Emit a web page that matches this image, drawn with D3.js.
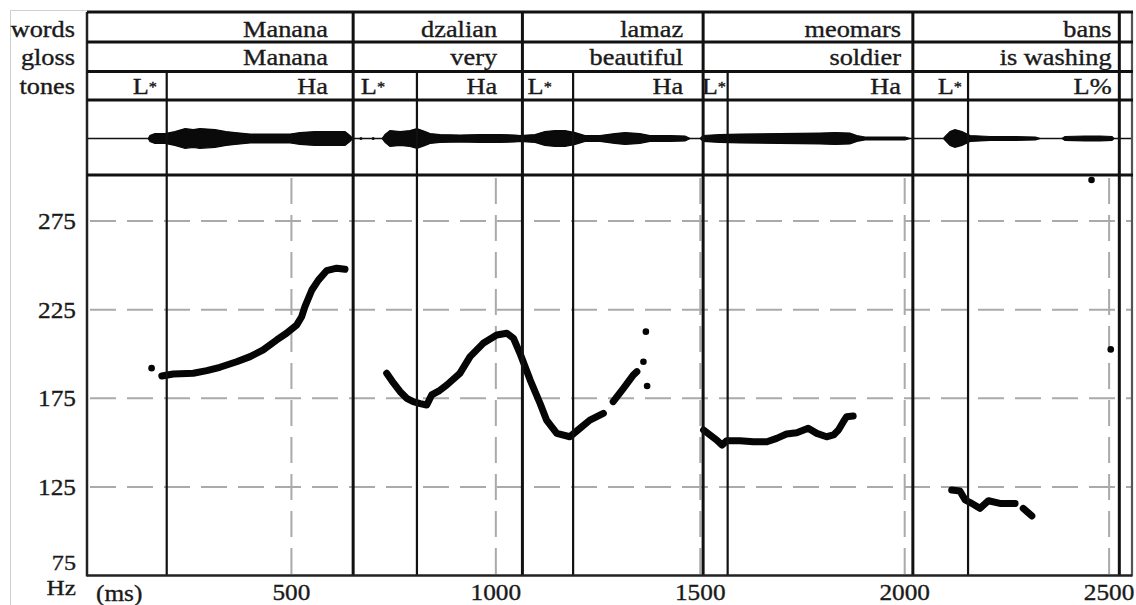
<!DOCTYPE html>
<html><head><meta charset="utf-8">
<script src="https://cdn.jsdelivr.net/npm/d3@7"></script>
<style>
body{margin:0;background:#fff;}
svg{display:block;}
text{font-family:"Liberation Serif","Times New Roman",serif;fill:#1a1a1a;stroke:#1a1a1a;stroke-width:0.35px;}
</style>
</head><body>
<svg id="c" width="1136" height="605"></svg>
<script>
// ---------------- DATA ----------------
const rowLabels = ["words", "gloss", "tones"];
const words = ["Manana", "dzalian", "lamaz", "meomars", "bans"];
const glosses = ["Manana", "very", "beautiful", "soldier", "is washing"];
const wordBounds = [0, 651, 1065, 1507, 2020, 2525];          // ms
const tones = ["L*", "Ha", "L*", "Ha", "L*", "Ha", "L*", "Ha", "L*", "L%"];
const toneBounds = [195, 807, 1189, 1567, 2155];              // ms (L* | H boundaries)
const yTicks = [75, 125, 175, 225, 275];
const xTicks = [500, 1000, 1500, 2000, 2500];

// F0 tracks [ms, Hz]
const pitchManana = [[183,187.6],[211,188.7],[260,189.1],[293,190.6],[325,192.5],[366,195.6],[399,198.5],[431,202.3],[464,207.9],[488,211.7],[513,216.4],[525,221],[533,226.7],[550,236.1],[566,241.7],[586,247],[611,248.4],[631,247.8]];
const pitchDzalian = [[733,189.1],[750,183.5],[766,178.7],[782,175],[798,173.1],[815,172],[831,171.2],[843,176.9],[860,179],[880,182.5],[912,189.1],[937,198.5],[969,206],[1002,210.7],[1027,211.7],[1043,208.9],[1059,200.4],[1084,185.3],[1108,172.2],[1124,162.7],[1149,155.2],[1181,153.3],[1206,158.1],[1230,162.7],[1263,166.5]];
const pitchLamaz = [[1287,173.1],[1312,180.6],[1336,188.1],[1345,190]];
const pitchMeomars = [[1508,157.1],[1524,154.3],[1540,151.5],[1553,148.6],[1565,151.1],[1597,151.1],[1630,150.5],[1663,150.5],[1687,152.4],[1711,154.8],[1736,155.6],[1764,158.1],[1785,155.2],[1809,153.3],[1826,154.3],[1838,157.1],[1850,161.8],[1858,164.6],[1874,165]];
const pitchBans1 = [[2115,123.2],[2135,122.7],[2148,117.6],[2164,115.7],[2184,112.9],[2205,117.2],[2233,115.7],[2270,115.7]];
const pitchBans2 = [[2290,112.9],[2311,108.6]];
const pitchDots = [[158,192],[1361,195.6],[1367,212.6],[1370,181.9],[2457,298.2],[2504,202.6]];

// waveform amplitude envelope [ms, half-amplitude]
const waveManana = [[150,0],[154,3],[166,5],[191,5],[215,7],[240,10],[260,9],[276,10],[313,9],[340,7],[362,6],[399,4.5],[448,4.5],[497,4.5],[521,6],[558,7],[594,7],[631,7],[643,3],[650,0]];
const waveDzalian = [[722,0],[729,4],[741,8],[766,7],[790,8],[807,10],[827,7],[839,5],[863,4],[912,3.5],[961,4],[1010,4],[1047,3.5],[1059,3],[1096,4],[1120,7],[1145,8],[1169,8],[1194,6],[1218,3],[1255,3],[1291,5],[1316,6],[1352,5],[1377,3],[1426,3],[1463,2.5],[1475,0]];
const waveMeomars = [[1500,0],[1507,3],[1548,4],[1597,4.5],[1695,5],[1793,5.5],[1830,6],[1866,5.5],[1883,3],[1903,1.5],[2001,1.5],[2013,0]];
const waveBans = [[2095,0],[2099,2],[2111,7],[2123,9],[2140,7],[2160,3],[2209,2],[2258,2],[2320,1.5],[2331,0]];
const waveBans2 = [[2385,0],[2392,2],[2441,2.5],[2478,2.5],[2507,2],[2512,0]];
const waveSpecks = [[670,1.5],[700,1.5]];

// ---------------- LAYOUT ----------------
const wordLabelEnd = [589, 1003, 1458, 1991, 2506];
const toneLabelEnd = [171, 589, 729, 1003, 1137, 1458, 1563, 1991, 2140, 2506];
const rowLines = [12, 42, 71.5, 100];
const waveBottom = 175;
const axisY = 575.5;
const left = 87, right = 1132;

const svg = d3.select("#c");
const x = d3.scaleLinear().domain([0, 2556]).range([left, right]);
const y = d3.scaleLinear().domain([75, 301]).range([axisY, waveBottom]);
const yw = d3.scaleLinear().domain([-37, 39]).range([waveBottom, 100]);

function label(g, txt, xx, yy, size, sx, anchor) {
  const t = g.append("g").attr("transform", `translate(${xx},${yy}) scale(${sx},1)`)
   .append("text").attr("text-anchor", anchor || "end").attr("font-size", size);
  const s = String(txt);
  if (s.endsWith("*")) {
    t.append("tspan").text(s.slice(0, -1));
    t.append("tspan").attr("font-size", size * 0.62).attr("dy", -2).text("*");
  } else {
    t.text(s);
  }
}

// faint outer image border
svg.append("path").attr("d", "M10.5,605 V10.5 H87").attr("fill", "none").attr("stroke", "#cfcfcf").attr("stroke-width", 1);

// gridlines
const grid = svg.append("g").attr("stroke", "#aaa").attr("stroke-width", 2).attr("stroke-dasharray", "26,11");
grid.selectAll(".hg").data(yTicks.filter(d => d > 75)).join("line")
  .attr("x1", left + 3).attr("x2", right).attr("y1", d => y(d)).attr("y2", d => y(d));
grid.selectAll(".vg").data(xTicks).join("line")
  .attr("x1", d => x(d)).attr("x2", d => x(d)).attr("y1", waveBottom + 3).attr("y2", axisY);

// waveform
svg.append("line").attr("x1", left).attr("x2", right).attr("y1", yw(0)).attr("y2", yw(0)).attr("stroke", "#111").attr("stroke-width", 1.5);
const area = d3.area().x(d => x(d[0])).y0(d => yw(-d[1])).y1(d => yw(d[1])).curve(d3.curveLinear);
svg.append("g").selectAll("path").data([waveManana, waveDzalian, waveMeomars, waveBans, waveBans2]).join("path")
  .attr("d", area).attr("fill", "#0a0a0a").attr("stroke", "#0a0a0a").attr("stroke-width", 1.2);
svg.append("g").selectAll("circle").data(waveSpecks).join("circle")
  .attr("cx", d => x(d[0])).attr("cy", yw(0)).attr("r", d => d[1]).attr("fill", "#111");

// pitch tracks
const line = d3.line().x(d => x(d[0])).y(d => y(d[1])).curve(d3.curveLinear);
svg.append("g").selectAll("path").data([pitchManana, pitchDzalian, pitchLamaz, pitchMeomars, pitchBans1, pitchBans2]).join("path")
  .attr("d", line).attr("fill", "none").attr("stroke", "#050505").attr("stroke-width", 7)
  .attr("stroke-linecap", "round").attr("stroke-linejoin", "round");
svg.append("g").selectAll("circle").data(pitchDots).join("circle")
  .attr("cx", d => x(d[0])).attr("cy", d => y(d[1])).attr("r", 3.3).attr("fill", "#050505");

// vertical boundaries
svg.append("g").selectAll("line").data(wordBounds.slice(1)).join("line")
  .attr("x1", d => x(d)).attr("x2", d => x(d)).attr("y1", rowLines[0]).attr("y2", axisY)
  .attr("stroke", "#111").attr("stroke-width", 3);
svg.append("g").selectAll("line").data(toneBounds).join("line")
  .attr("x1", d => x(d)).attr("x2", d => x(d)).attr("y1", rowLines[2]).attr("y2", axisY)
  .attr("stroke", "#111").attr("stroke-width", 2.2);
// frame
svg.append("line").attr("x1", left).attr("x2", left).attr("y1", rowLines[0]).attr("y2", axisY + 1).attr("stroke", "#222").attr("stroke-width", 2.5);
svg.append("line").attr("x1", right).attr("x2", right).attr("y1", rowLines[0]).attr("y2", axisY + 1).attr("stroke", "#555").attr("stroke-width", 2.2);
svg.append("g").selectAll("line").data(rowLines.concat([waveBottom])).join("line")
  .attr("x1", left).attr("x2", right + 1).attr("y1", d => d).attr("y2", d => d)
  .attr("stroke", "#111").attr("stroke-width", 3.2);
svg.append("line").attr("x1", left).attr("x2", right).attr("y1", axisY).attr("y2", axisY).attr("stroke", "#222").attr("stroke-width", 2.5);

// header texts
const hdr = svg.append("g");
const baselines = [37, 65, 94];
rowLabels.forEach((t, i) => label(hdr, t, 75, baselines[i], 22.5, 1.17));
words.forEach((t, i) => label(hdr, t, x(wordLabelEnd[i]), baselines[0], 22.5, 1.17));
glosses.forEach((t, i) => label(hdr, t, x(wordLabelEnd[i]), baselines[1], 22.5, 1.17));
tones.forEach((t, i) => label(hdr, t, x(toneLabelEnd[i]), baselines[2], 22.5, 1.17));

// axis labels
const ax = svg.append("g");
yTicks.forEach(t => { if (t !== 75) label(ax, t, 76, y(t) + 8, 23, 1.1); });
label(ax, "75", 76, 570, 21, 1.15);
label(ax, "Hz", 76, 595, 21, 1.2);
xTicks.forEach(t => label(ax, t, x(t), 600, 23, 1.1, "middle"));
label(ax, "(ms)", 96, 601, 23, 1.1, "start");
</script>
</body></html>
